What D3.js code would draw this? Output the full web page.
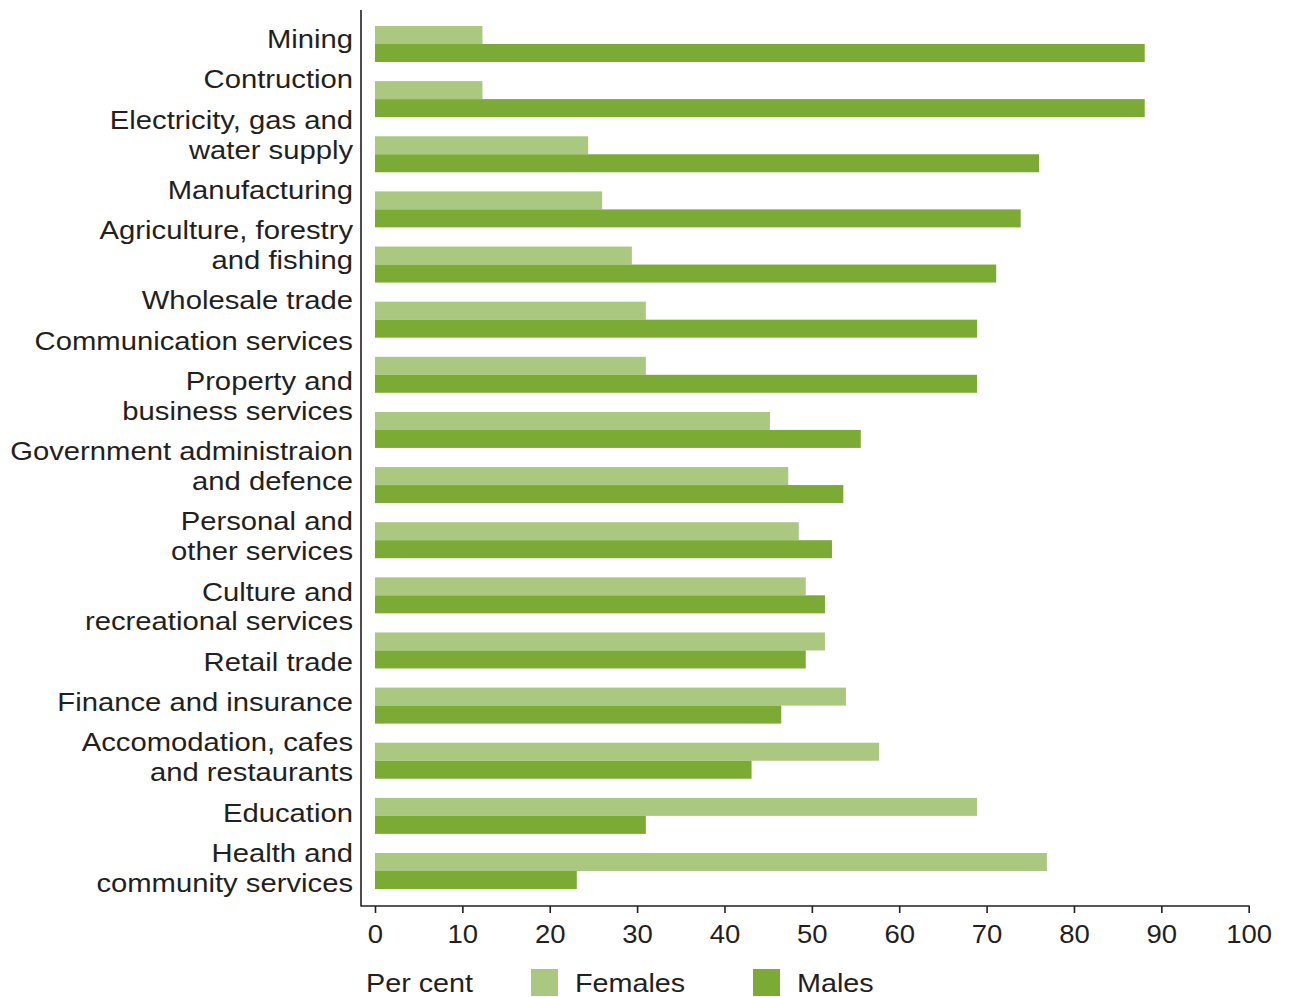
<!DOCTYPE html>
<html>
<head>
<meta charset="utf-8">
<script src="https://cdn.jsdelivr.net/npm/d3@7"></script>
<style>
  html, body { margin: 0; padding: 0; background: #ffffff; }
  svg { display: block; }
  text { font-family: "Liberation Sans", Arial, Helvetica, sans-serif; fill: #231f20; }
</style>
</head>
<body>
<svg id="chart" width="1291" height="997"></svg>
<script>
// ---- Data ----
const categories = [
  "Mining",
  "Contruction",
  "Electricity, gas and\nwater supply",
  "Manufacturing",
  "Agriculture, forestry\nand fishing",
  "Wholesale trade",
  "Communication services",
  "Property and\nbusiness services",
  "Government administraion\nand defence",
  "Personal and\nother services",
  "Culture and\nrecreational services",
  "Retail trade",
  "Finance and insurance",
  "Accomodation, cafes\nand restaurants",
  "Education",
  "Health and\ncommunity services"
];
const females = [12.3, 12.3, 24.4, 26.0, 29.4, 31.0, 31.0, 45.2, 47.3, 48.5, 49.3, 51.5, 53.9, 57.7, 68.9, 76.9];
const males   = [88.1, 88.1, 76.0, 73.9, 71.1, 68.9, 68.9, 55.6, 53.6, 52.3, 51.5, 49.3, 46.5, 43.1, 31.0, 23.1];
const seriesNames = ["Females", "Males"];
const xTicks = [0, 10, 20, 30, 40, 50, 60, 70, 80, 90, 100];
const xAxisTitle = "Per cent";

// ---- Styles ----
const colors = { Females: "#abc880", Males: "#7bab35" };
const ink = "#231f20";
const fontSize = 25;
const labelStretch = 1.17;
const tickStretch = 1.1;
const legendStretch = 1.15;

const svg = d3.select("#chart");

const x = d3.scaleLinear().domain([0, 100]).range([375, 1248.7]);
const y = d3.scaleBand().domain(categories).range([26, 889]).paddingInner(0.347).paddingOuter(0);
const ySub = d3.scaleBand().domain(seriesNames).range([0, y.bandwidth()]).padding(0);

const rows = categories.map((c, i) => ({ cat: c, Females: females[i], Males: males[i] }));

// Bars
const g = svg.append("g");
rows.forEach(r => {
  seriesNames.forEach(s => {
    g.append("rect")
      .attr("x", x(0))
      .attr("y", y(r.cat) + ySub(s))
      .attr("width", x(r[s]) - x(0))
      .attr("height", ySub.bandwidth())
      .attr("fill", colors[s]);
  });
});

// Y axis line
svg.append("line")
  .attr("x1", 361).attr("x2", 361)
  .attr("y1", 10).attr("y2", 906.5)
  .attr("stroke", ink).attr("stroke-width", 1.6);

// X axis
const xAxis = d3.axisBottom(x).tickValues(xTicks).tickSize(7).tickPadding(12).tickFormat(d3.format("d"));
const ax = svg.append("g").attr("transform", "translate(0,906)").call(xAxis);
ax.select(".domain").remove();
ax.append("line").attr("x1", 361).attr("x2", 1249.5).attr("y1", 0).attr("y2", 0)
  .attr("stroke", ink).attr("stroke-width", 1.6);
ax.selectAll(".tick line").attr("stroke", ink).attr("stroke-width", 1.6);
ax.selectAll(".tick text")
  .attr("font-size", fontSize)
  .attr("font-family", "'Liberation Sans', Arial, sans-serif")
  .attr("fill", ink)
  .attr("dy", "0.71em")
  .attr("transform", `scale(${tickStretch},1)`);

// Category labels (text flow: new label +40.4px, continuation line +29.7px)
const labels = svg.append("g");
let baseline = 48;
categories.forEach((c, i) => {
  const lines = c.split("\n");
  if (i > 0) baseline += 40.4;
  lines.forEach((ln, j) => {
    if (j > 0) baseline += 29.7;
    labels.append("text")
      .attr("transform", `translate(353,${baseline}) scale(${labelStretch},1)`)
      .attr("text-anchor", "end")
      .attr("font-size", fontSize)
      .text(ln);
  });
});

// Legend
const legY = 992;
svg.append("text")
  .attr("transform", `translate(366,${legY}) scale(${legendStretch},1)`)
  .attr("font-size", fontSize).text(xAxisTitle);
const legPos = { Females: 531, Males: 753 };
seriesNames.forEach(s => {
  svg.append("rect").attr("x", legPos[s]).attr("y", 969).attr("width", 27).attr("height", 27).attr("fill", colors[s]);
  svg.append("text")
    .attr("transform", `translate(${legPos[s] + 44},${legY}) scale(${legendStretch},1)`)
    .attr("font-size", fontSize).text(s);
});
</script>
</body>
</html>
